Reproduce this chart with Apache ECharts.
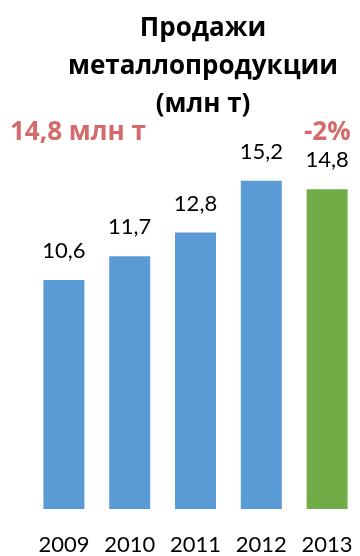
<!DOCTYPE html>
<html>
<head>
<meta charset="utf-8">
<script src="https://cdn.jsdelivr.net/npm/echarts@6/dist/echarts.min.js"></script>
<style>
    html, body { margin: 0; padding: 0; background: #fff; }
    #chart { width: 360px; height: 556px; }
</style>
</head>
<body>
<div id="chart"></div>
<script>
const years = ['2009', '2010', '2011', '2012', '2013']
const sales = [10.6, 11.7, 12.8, 15.2, 14.8]
const barColors = ['#5b9bd5', '#5b9bd5', '#5b9bd5', '#5b9bd5', '#70ad47']
const titleText = 'Продажи\nметаллопродукции\n(млн т)'
const totalNote = '14,8 млн т'
const changeNote = '-2%'

function drawChart(id) {
    let dom = document.getElementById(id)
    let myChart = echarts.init(dom, null, { renderer: 'canvas' })

    let barData = []
    for (let i = 0; i < sales.length; i++) {
        barData.push({
            value: sales[i],
            itemStyle: { color: barColors[i] }
        })
    }

    let option = {
        animation: false,
        textStyle: { fontFamily: 'Lato' },
        title: {
            text: titleText,
            left: 198,
            top: 5,
            textAlign: 'center',
            textStyle: {
                fontFamily: 'Open Sans',
                fontWeight: 'bold',
                fontSize: 26,
                lineHeight: 38,
                color: '#000'
            }
        },
        graphic: [
            {
                type: 'text',
                left: 10,
                top: 120,
                style: {
                    text: totalNote,
                    font: 'bold 26px "Open Sans"',
                    fill: '#d46a6a'
                }
            },
            {
                type: 'text',
                left: 304,
                top: 120,
                style: {
                    text: changeNote,
                    font: 'bold 26px "Open Sans"',
                    fill: '#d46a6a'
                }
            }
        ],
        grid: {
            left: 31,
            width: 333,
            top: 77,
            bottom: 45,
            containLabel: false
        },
        xAxis: {
            type: 'category',
            data: years,
            axisLine: { show: false },
            axisTick: { show: false },
            axisLabel: {
                interval: 0,
                color: '#000',
                fontSize: 22,
                fontFamily: 'Lato',
                margin: 25
            }
        },
        yAxis: {
            type: 'value',
            min: 0,
            max: 20,
            show: false,
            splitLine: { show: false }
        },
        series: [
            {
                type: 'bar',
                data: barData,
                barWidth: 41,
                label: {
                    show: true,
                    position: 'top',
                    distance: 18,
                    color: '#000',
                    fontSize: 22,
                    fontFamily: 'Lato',
                    formatter: (p) => String(p.value).replace('.', ',')
                }
            }
        ]
    }
    myChart.setOption(option)
}

drawChart('chart')
</script>
</body>
</html>
